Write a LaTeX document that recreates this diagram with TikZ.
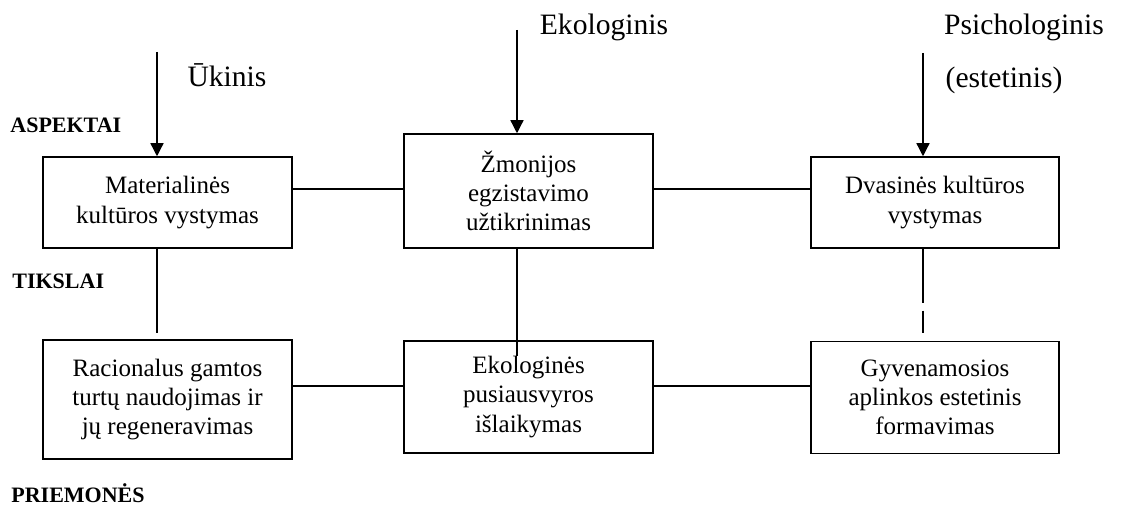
\documentclass[tikz,border=0pt]{standalone}
\usepackage{fontspec}
\setmainfont{Liberation Serif}
\usetikzlibrary{arrows.meta}
\tikzset{
  box/.style={draw, line width=0.75pt, align=center, minimum width=124.5pt,
    font=\fontsize{12.5}{14.6}\selectfont},
  aspect/.style={anchor=base, font=\fontsize{14.8}{17}\selectfont},
  level/.style={anchor=base west, inner sep=0pt, font=\fontsize{11}{13}\selectfont\bfseries},
  arr/.style={line width=0.65pt, -{Triangle[length=6.5pt,width=6.5pt]}},
  link/.style={line width=0.65pt}
}
\begin{document}
\begin{tikzpicture}[x=0.5pt, y=-0.5pt]
\useasboundingbox (0,0) rectangle (1121,506);

\node[box, minimum height=45.5pt] (M) at (167.5, 202.5) {Materialinės\\kultūros vystymas};
\node[box, minimum height=57pt] (Z) at (528.5, 191) {Žmonijos\\egzistavimo\\užtikrinimas};
\node[box, minimum height=45.5pt, minimum width=124pt] (D) at (935, 202.5) {Dvasinės kultūros\\vystymas};
\node[box, minimum height=59.5pt] (R) at (167.5, 399.5) {Racionalus gamtos\\turtų naudojimas ir\\jų regeneravimas};
\node[box, minimum height=56pt] (E) at (528.5, 397) {Ekologinės\\pusiausvyros\\išlaikymas};
\node[box, minimum height=56pt, minimum width=124pt] (G) at (935, 397.5) {Gyvenamosios\\aplinkos estetinis\\formavimas};

\node[aspect] (uk) at (227, 87) {Ūkinis};
\node[aspect] (ek) at (604, 35) {Ekologinis};
\node[aspect] (ps) at (1024, 35) {Psichologinis};
\node[aspect] (es) at (1004, 88) {(estetinis)};

\node[level] (asp) at (10, 133) {ASPEKTAI};
\node[level] (tik) at (12, 289) {TIKSLAI};
\node[level] (pri) at (11, 503) {PRIEMONĖS};

\coordinate (ua) at (157, 52);
\coordinate (ea) at (517, 30);
\coordinate (pa) at (923, 53);
\coordinate (mr) at (157, 333);
\coordinate (ze) at (517, 356);
\coordinate (dg) at (923, 333);
\coordinate (top) at (0, 189);
\coordinate (low) at (0, 386);

\draw[arr] (ua) -- (ua |- M.north);
\draw[arr] (ea) -- (ea |- Z.north);
\draw[arr] (pa) -- (pa |- D.north);

\draw[link] (M.east |- top) -- (Z.west |- top);
\draw[link] (Z.east |- top) -- (D.west |- top);
\draw[link] (R.east |- low) -- (E.west |- low);
\draw[link] (E.east |- low) -- (G.west |- low);

\draw[link] (mr |- M.south) -- (mr);
\draw[link] (ze |- Z.south) -- (ze);
\draw[link, dash pattern=on 27pt off 4pt on 11.5pt off 10pt] (dg |- D.south) -- (dg);
\end{tikzpicture}
\end{document}
